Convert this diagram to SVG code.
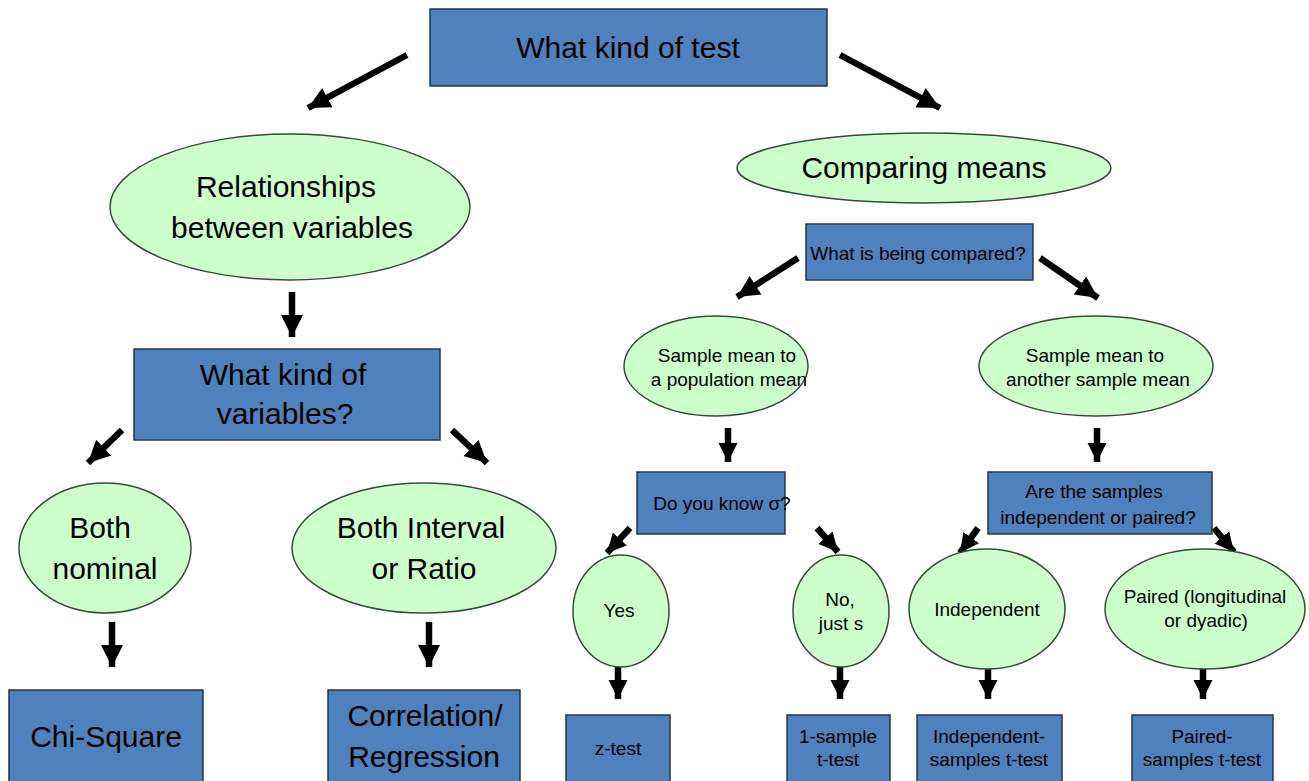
<svg xmlns="http://www.w3.org/2000/svg" width="1309" height="781" viewBox="0 0 1309 781">
<style>
.box{fill:#4f81bd;stroke:#26354a;stroke-width:1.5}
.ell{fill:#ccffcc;stroke:#3a4a3a;stroke-width:1.5}
.big{font-family:"Liberation Sans",Arial,sans-serif;font-size:30px;fill:#000;text-anchor:middle}
.sm{font-family:"Liberation Sans",Arial,sans-serif;font-size:19px;fill:#000;text-anchor:middle}
.ar{stroke:#000;stroke-width:6.5;fill:none;marker-end:url(#ah)}
.ars{stroke:#000;stroke-width:6.5;fill:none;marker-end:url(#ahs)}
</style>
<defs>
<marker id="ah" viewBox="0 0 10 10" refX="10" refY="5" markerWidth="22" markerHeight="26" markerUnits="userSpaceOnUse" orient="auto"><path d="M0,0 L10,5 L0,10 z" fill="#000"/></marker>
<marker id="ahs" viewBox="0 0 10 10" refX="10" refY="5" markerWidth="19" markerHeight="22" markerUnits="userSpaceOnUse" orient="auto"><path d="M0,0 L10,5 L0,10 z" fill="#000"/></marker>
</defs>
<rect width="1309" height="781" fill="#fff"/>
<g id="connectors">
<line class="ar" x1="407" y1="55" x2="308" y2="108"/>
<line class="ar" x1="840" y1="55" x2="940" y2="108"/>
<line class="ar" x1="292" y1="292" x2="292" y2="337"/>
<line class="ar" x1="122" y1="430" x2="88" y2="463"/>
<line class="ar" x1="452" y1="430" x2="487" y2="463"/>
<line class="ar" x1="112" y1="622" x2="112" y2="667"/>
<line class="ar" x1="429" y1="622" x2="429" y2="667"/>
<line class="ar" x1="798" y1="258" x2="737" y2="297"/>
<line class="ar" x1="1040" y1="258" x2="1098" y2="298"/>
<line class="ars" x1="728" y1="428" x2="728" y2="462"/>
<line class="ars" x1="1097" y1="428" x2="1097" y2="462"/>
<line class="ars" x1="630" y1="528" x2="607" y2="553"/>
<line class="ars" x1="817" y1="528" x2="838" y2="552"/>
<line class="ars" x1="978" y1="528" x2="960" y2="553"/>
<line class="ars" x1="1214" y1="528" x2="1234" y2="552"/>
<line class="ars" x1="618" y1="666" x2="618" y2="699"/>
<line class="ars" x1="840" y1="666" x2="840" y2="699"/>
<line class="ars" x1="988" y1="666" x2="988" y2="699"/>
<line class="ars" x1="1203" y1="666" x2="1203" y2="699"/>
</g>
<g id="n-test"><rect class="box" x="430" y="9" width="397" height="77"/><text class="big" x="628" y="58">What kind of test</text></g>
<g id="n-rel"><ellipse class="ell" cx="290" cy="207" rx="180" ry="73"/><text class="big" x="286" y="197">Relationships</text><text class="big" x="292" y="238">between variables</text></g>
<g id="n-comp"><ellipse class="ell" cx="924" cy="168" rx="187" ry="35"/><text class="big" x="924" y="178">Comparing means</text></g>
<g id="n-vars"><rect class="box" x="134" y="349" width="306" height="91"/><text class="big" x="283" y="385">What kind of</text><text class="big" x="285" y="424">variables?</text></g>
<g id="n-nom"><ellipse class="ell" cx="105" cy="548" rx="86" ry="65"/><text class="big" x="100" y="538">Both</text><text class="big" x="105" y="579">nominal</text></g>
<g id="n-int"><ellipse class="ell" cx="424" cy="548" rx="132" ry="65"/><text class="big" x="421" y="538">Both Interval</text><text class="big" x="424" y="579">or Ratio</text></g>
<g id="n-chi"><rect class="box" x="9" y="690" width="194" height="100"/><text class="big" x="106" y="747">Chi-Square</text></g>
<g id="n-corr"><rect class="box" x="328" y="690" width="192" height="100"/><text class="big" x="425" y="726">Correlation/</text><text class="big" x="424" y="767">Regression</text></g>
<g id="n-what"><rect class="box" x="806" y="224" width="227" height="56"/><text class="sm" x="918" y="260">What is being compared?</text></g>
<g id="n-pop"><ellipse class="ell" cx="716" cy="366" rx="92" ry="50"/><text class="sm" x="727" y="362">Sample mean to</text><text class="sm" x="729" y="386">a population mean</text></g>
<g id="n-another"><ellipse class="ell" cx="1096" cy="366" rx="117" ry="50"/><text class="sm" x="1095" y="362">Sample mean to</text><text class="sm" x="1098" y="386">another sample mean</text></g>
<g id="n-sigma"><rect class="box" x="637" y="472" width="148" height="62"/><text class="sm" x="722" y="510">Do you know σ?</text></g>
<g id="n-indep-q"><rect class="box" x="988" y="472" width="224" height="62"/><text class="sm" x="1094" y="498">Are the samples</text><text class="sm" x="1098" y="524">independent or paired?</text></g>
<g id="n-yes"><ellipse class="ell" cx="621" cy="611" rx="48" ry="56"/><text class="sm" x="619" y="617">Yes</text></g>
<g id="n-no"><ellipse class="ell" cx="841" cy="611" rx="48" ry="56"/><text class="sm" x="840" y="606">No,</text><text class="sm" x="841" y="630">just s</text></g>
<g id="n-indep"><ellipse class="ell" cx="987" cy="609" rx="78" ry="60"/><text class="sm" x="987" y="616">Independent</text></g>
<g id="n-paired"><ellipse class="ell" cx="1205" cy="609" rx="100" ry="60"/><text class="sm" x="1205" y="603">Paired (longitudinal</text><text class="sm" x="1206" y="627">or dyadic)</text></g>
<g id="n-z"><rect class="box" x="566" y="715" width="104" height="80"/><text class="sm" x="618" y="755">z-test</text></g>
<g id="n-1s"><rect class="box" x="787" y="715" width="103" height="80"/><text class="sm" x="838" y="743">1-sample</text><text class="sm" x="838" y="766">t-test</text></g>
<g id="n-ist"><rect class="box" x="917" y="715" width="145" height="80"/><text class="sm" x="989" y="743">Independent-</text><text class="sm" x="989" y="766">samples t-test</text></g>
<g id="n-pst"><rect class="box" x="1132" y="715" width="141" height="80"/><text class="sm" x="1202" y="743">Paired-</text><text class="sm" x="1202" y="766">samples t-test</text></g>
</svg>
